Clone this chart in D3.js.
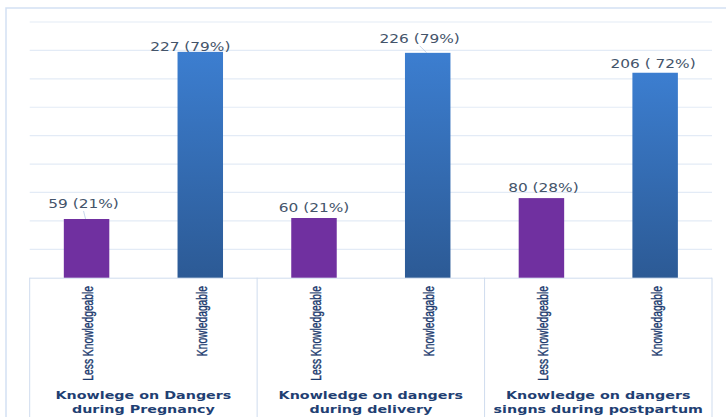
<!DOCTYPE html>
<html>
<head>
<meta charset="utf-8">
<script src="https://cdn.jsdelivr.net/npm/d3@7"></script>
<style>
  body { margin: 0; background: #fff; }
  svg { display: block; }
</style>
</head>
<body>
<svg></svg>
<script>
const width = 726;
const height = 417;

// data
const groups = ["pregnancy", "delivery", "postpartum"];
const groupLabels = [
    ["Knowlege on Dangers", "during Pregnancy"],
    ["Knowledge on dangers", "during delivery"],
    ["Knowledge on dangers", "singns during postpartum"]
];
const levels = ["Less Knowledgeable", "Knowledagable"];
const lessCounts = [59, 60, 80];
const knowCounts = [227, 226, 206];
const valueLabels = [
    ["59 (21%)", "227 (79%)"],
    ["60 (21%)", "226 (79%)"],
    ["80 (28%)", "206 ( 72%)"]
];
const gridCount = 9;
const yMax = 257;

// label nudges (px) as in the original figure
const labelLift = [[11, 1], [6, 10], [6, 5]];
const labelShift = [[-3, -10], [0, -8], [2, -2]];

const svg = d3.select("svg").attr("width", width).attr("height", height);

const plot = { left: 29.7, right: 712, top: 22, base: 277.7 };

const defs = svg.append("defs");
const grad = defs.append("linearGradient")
    .attr("id", "blueGrad")
    .attr("x1", 0).attr("y1", 0).attr("x2", 0).attr("y2", 1);
grad.append("stop").attr("offset", "0%").attr("stop-color", "#3c7ed0");
grad.append("stop").attr("offset", "100%").attr("stop-color", "#2c5a95");

// outer frame
svg.append("rect")
    .attr("x", 6).attr("y", 8)
    .attr("width", width + 10).attr("height", height + 10)
    .attr("fill", "none")
    .attr("stroke", "#d3e1f3")
    .attr("stroke-width", 1.5);

const x0 = d3.scaleBand().domain(groups).range([plot.left, plot.right]).padding(0);
const x1 = d3.scaleBand().domain(levels).range([0, x0.bandwidth()]).paddingInner(0.6).paddingOuter(0.3);
const y = d3.scaleLinear().domain([0, yMax]).range([plot.base, plot.top]);

// gridlines
const gridVals = d3.range(1, gridCount + 1).map(i => yMax * i / gridCount);
svg.append("g").selectAll("line")
    .data(gridVals)
    .enter().append("line")
    .attr("x1", plot.left).attr("x2", plot.right)
    .attr("y1", d => y(d)).attr("y2", d => y(d))
    .attr("stroke", "#e3ebf6")
    .attr("stroke-width", 1.2);

// category table lines
const tbl = svg.append("g").attr("stroke", "#cfdcee").attr("stroke-width", 1);
tbl.append("line")
    .attr("x1", plot.left).attr("x2", plot.right)
    .attr("y1", plot.base + 0.5).attr("y2", plot.base + 0.5);
const seps = groups.map(g => x0(g)).concat([plot.right]);
tbl.selectAll("line.sep")
    .data(seps)
    .enter().append("line")
    .attr("class", "sep")
    .attr("x1", d => d).attr("x2", d => d)
    .attr("y1", plot.base).attr("y2", height);

// bars
const barData = [];
groups.forEach((g, i) => {
    barData.push({ g: g, gi: i, level: levels[0], li: 0, value: lessCounts[i] });
    barData.push({ g: g, gi: i, level: levels[1], li: 1, value: knowCounts[i] });
});
const barCx = d => x0(d.g) + x1(d.level) + x1.bandwidth() / 2;

svg.append("g").selectAll("rect")
    .data(barData)
    .enter().append("rect")
    .attr("x", d => x0(d.g) + x1(d.level))
    .attr("y", d => y(d.value))
    .attr("width", x1.bandwidth())
    .attr("height", d => plot.base - y(d.value))
    .attr("fill", d => d.li === 0 ? "#7030a0" : "url(#blueGrad)");

// leader lines where the label sits well above its bar
svg.append("g").selectAll("line")
    .data(barData.filter(d => labelLift[d.gi][d.li] >= 10))
    .enter().append("line")
    .attr("x1", d => barCx(d) + labelShift[d.gi][d.li])
    .attr("y1", d => y(d.value) - labelLift[d.gi][d.li] + 3)
    .attr("x2", d => barCx(d) - 1)
    .attr("y2", d => y(d.value))
    .attr("stroke", "#b7cbe6")
    .attr("stroke-width", 0.8);

// value labels
svg.append("g").selectAll("text")
    .data(barData)
    .enter().append("text")
    .attr("transform", d => {
        const cx = barCx(d) + labelShift[d.gi][d.li];
        const cy = y(d.value) - labelLift[d.gi][d.li];
        return `translate(${cx},${cy}) scale(1.28,1)`;
    })
    .attr("text-anchor", "middle")
    .attr("font-family", "DejaVu Sans, sans-serif")
    .attr("font-size", "12px")
    .attr("fill", "#44546a")
    .text(d => valueLabels[d.gi][d.li]);

// rotated level labels
svg.append("g").selectAll("text")
    .data(barData)
    .enter().append("text")
    .attr("transform", d => `translate(${barCx(d) + 1.5},286) rotate(-90) scale(0.79,1.12)`)
    .attr("text-anchor", "end")
    .attr("dy", "0.35em")
    .attr("font-family", "Liberation Sans, Arial, sans-serif")
    .attr("font-size", "13px")
    .attr("fill", "#1c3a6e")
    .attr("stroke", "#1c3a6e")
    .attr("stroke-width", 0.35)
    .text(d => d.level);

// group labels
const gl = svg.append("g").selectAll("g")
    .data(groups)
    .enter().append("g");
[0, 1].forEach(line => {
    gl.append("text")
        .attr("transform", d => `translate(${x0(d) + x0.bandwidth() / 2},${398.5 + line * 14.5}) scale(1.3,1)`)
        .attr("text-anchor", "middle")
        .attr("font-family", "DejaVu Sans, sans-serif")
        .attr("font-weight", "bold")
        .attr("font-size", "11px")
        .attr("fill", "#1f3f73")
        .text((d, i) => groupLabels[i][line]);
});
</script>
</body>
</html>
